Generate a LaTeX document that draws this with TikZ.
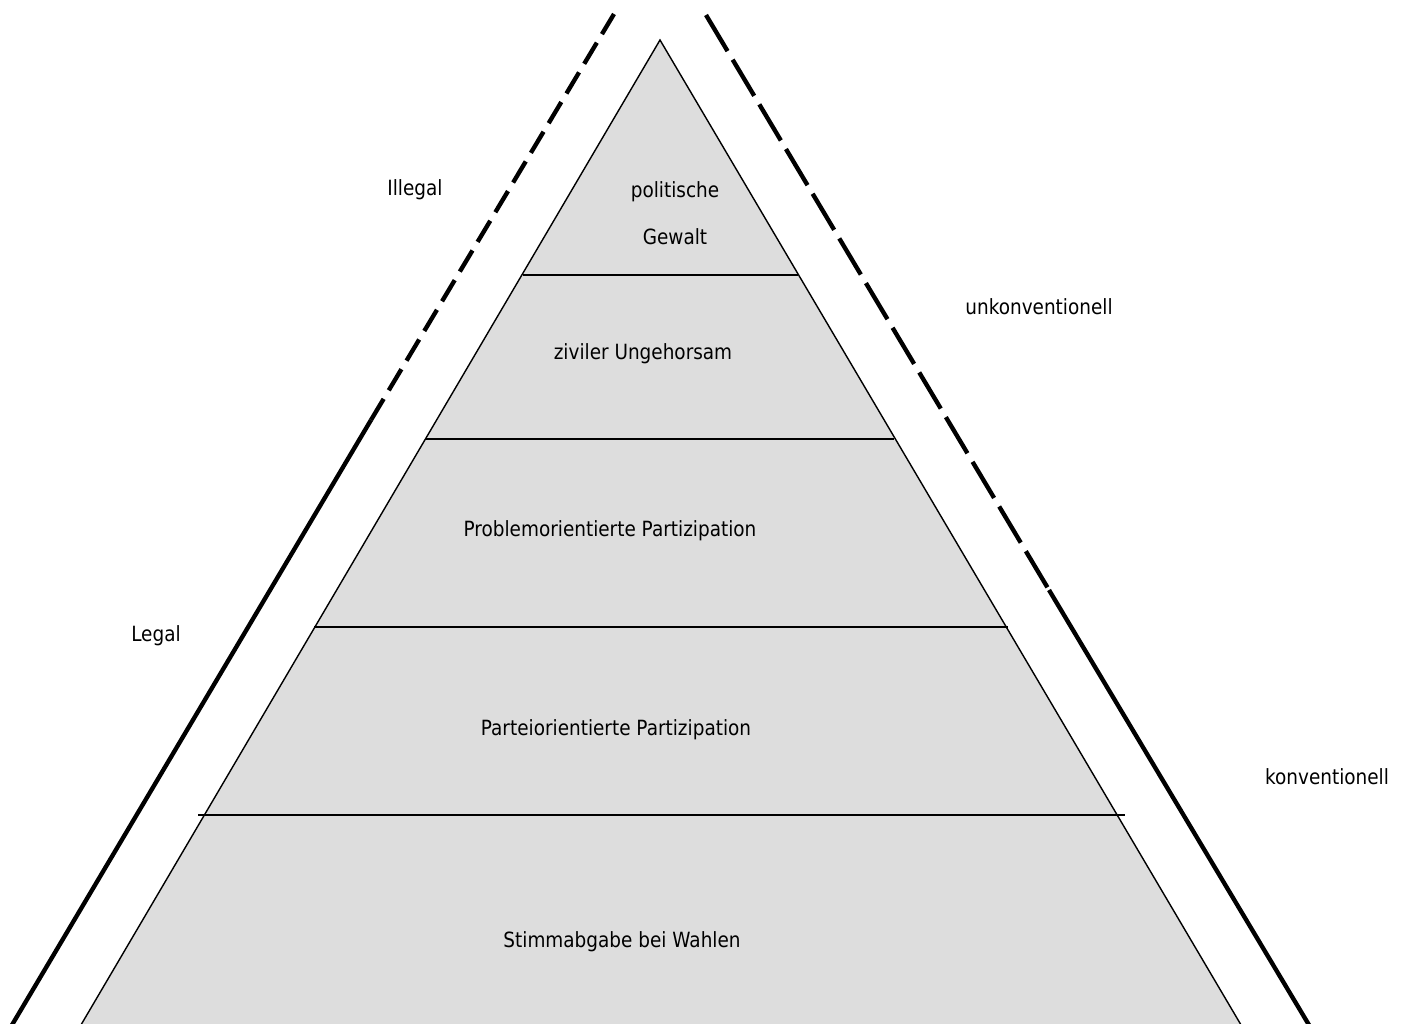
\documentclass[tikz,border=0pt]{standalone}
\usepackage{fontspec}
\setmainfont{DejaVu Sans}[FakeStretch=0.88]
\usetikzlibrary{positioning}
\definecolor{layerfill}{HTML}{DDDDDD}
\tikzset{
  label text/.style={font=\fontsize{14.9}{18}\selectfont, inner sep=0pt, text height=10.9pt, text depth=0pt},
  layer line/.style={line width=1pt},
  bound line/.style={line width=3.1pt},
}

\begin{document}
\begin{tikzpicture}[x=0.025cm, y=-0.025cm]
        \useasboundingbox (0,0) rectangle (1408,1024);
        \coordinate (apex) at (660,40);
        \coordinate (baseL) at (78,1030);
        \coordinate (baseR) at (1244,1030);
        \fill[layerfill] (apex) -- (baseL) -- (baseR) -- cycle;
        \draw[layer line] (baseL) -- (apex) -- (baseR);
        \coordinate (sepA1) at (523,275);  \coordinate (sepA2) at (798,275);
        \coordinate (sepB1) at (426,439);  \coordinate (sepB2) at (894,439);
        \coordinate (sepC1) at (314,627);  \coordinate (sepC2) at (1008,627);
        \coordinate (sepD1) at (198,815);  \coordinate (sepD2) at (1125,815);
        \foreach \s in {A,B,C,D}
          \draw[layer line] (sep\s1) -- (sep\s2);
        \coordinate (legalFoot) at (9,1030);
        \coordinate (legalBreak) at (371,420);
        \coordinate (legalTop) at (614,14);
        \draw[bound line] (legalFoot) -- (legalBreak);
        \draw[bound line, dash pattern=on 17.5pt off 7.1pt] (legalBreak) -- (legalTop);
        \coordinate (convFoot) at (1312,1030);
        \coordinate (convBreak) at (1049,590);
        \coordinate (convTop) at (706,15);
        \draw[bound line, dash pattern=on 29.9pt off 7.1pt] (convTop) -- (convBreak);
        \draw[bound line] (convBreak) -- (convFoot);
        \node[label text] (topA) at (675,190) {politische};
        \node[label text, below=21.8pt of topA] (topB) {Gewalt};
        \node[label text] (civil) at (643,352) {ziviler Ungehorsam};
        \node[label text] (problem) at (610,529) {Problemorientierte Partizipation};
        \node[label text] (party) at (616,728) {Parteiorientierte Partizipation};
        \node[label text] (vote) at (622,940) {Stimmabgabe bei Wahlen};
        \node[label text] (illegal) at (415,188) {Illegal};
        \node[label text] (legal) at (156,634) {Legal};
        \node[label text] (unconv) at (1039,307) {unkonventionell};
        \node[label text] (conv) at (1327,777) {konventionell};
      \end{tikzpicture}
\end{document}
